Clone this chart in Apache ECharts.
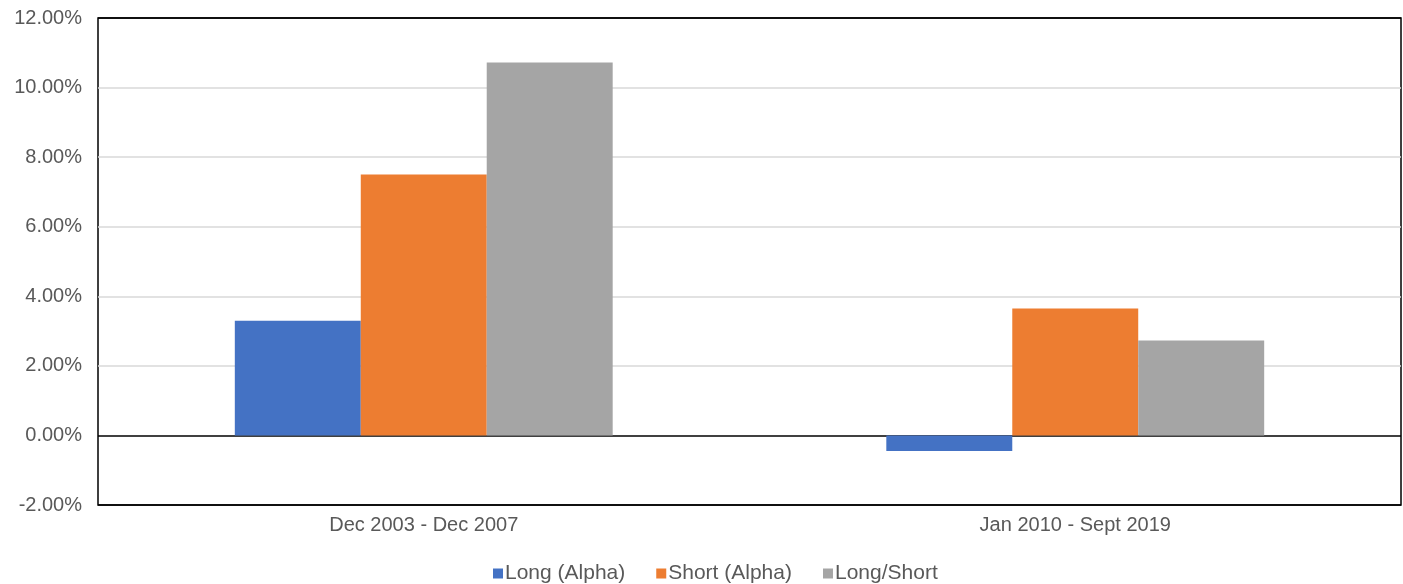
<!DOCTYPE html>
<html>
<head>
<meta charset="utf-8">
<script src="https://cdn.jsdelivr.net/npm/echarts@6/dist/echarts.min.js"></script>
<style>
  html, body { margin: 0; padding: 0; background: #fff; }
  #chart { width: 1403px; height: 584px; }
</style>
</head>
<body>
<div id="chart"></div>
<script>
// periods on the x axis
const periods = ['Dec 2003 - Dec 2007', 'Jan 2010 - Sept 2019']
// returns in percent
const longAlpha = [3.30, -0.45]
const shortAlpha = [7.50, 3.65]
const longShort = [10.72, 2.73]

const chart = echarts.init(document.getElementById('chart'))
const font = 'Liberation Sans, Arial, Helvetica, sans-serif'

const makeSeries = (name, data, color) => ({
  name: name,
  type: 'bar',
  data: data,
  barCategoryGap: '42%',
  barGap: '0%',
  itemStyle: { color: color },
  emphasis: { disabled: true }
})

chart.setOption({
  animation: false,
  textStyle: { fontFamily: font },
  grid: {
    left: 98,
    right: 2,
    top: 18,
    bottom: 79,
    show: true,
    borderColor: '#000',
    borderWidth: 1.5
  },
  legend: {
    top: 558,
    left: 488,
    icon: 'rect',
    itemWidth: 10,
    itemHeight: 10,
    itemGap: 31,
    textStyle: { color: '#595959', fontSize: 21, fontFamily: font, padding: [0, 0, 0, -3] },
    data: ['Long (Alpha)', 'Short (Alpha)', 'Long/Short']
  },
  xAxis: {
    type: 'category',
    data: periods,
    axisLine: { show: false },
    axisTick: { show: false },
    axisLabel: { color: '#595959', fontSize: 20, margin: 10, fontFamily: font }
  },
  yAxis: {
    type: 'value',
    min: -2,
    max: 12,
    interval: 2,
    axisLine: { show: false },
    axisTick: { show: false },
    axisLabel: {
      color: '#595959',
      fontSize: 20,
      margin: 16,
      fontFamily: font,
      formatter: v => v.toFixed(2) + '%'
    },
    splitLine: {
      lineStyle: {
        color: ['#000', '#000', '#d9d9d9', '#d9d9d9', '#d9d9d9', '#d9d9d9', '#d9d9d9', '#000'],
        width: 1.5
      }
    }
  },
  series: [
    makeSeries('Long (Alpha)', longAlpha, '#4472c4'),
    makeSeries('Short (Alpha)', shortAlpha, '#ed7d31'),
    makeSeries('Long/Short', longShort, '#a5a5a5')
  ]
})
</script>
</body>
</html>
